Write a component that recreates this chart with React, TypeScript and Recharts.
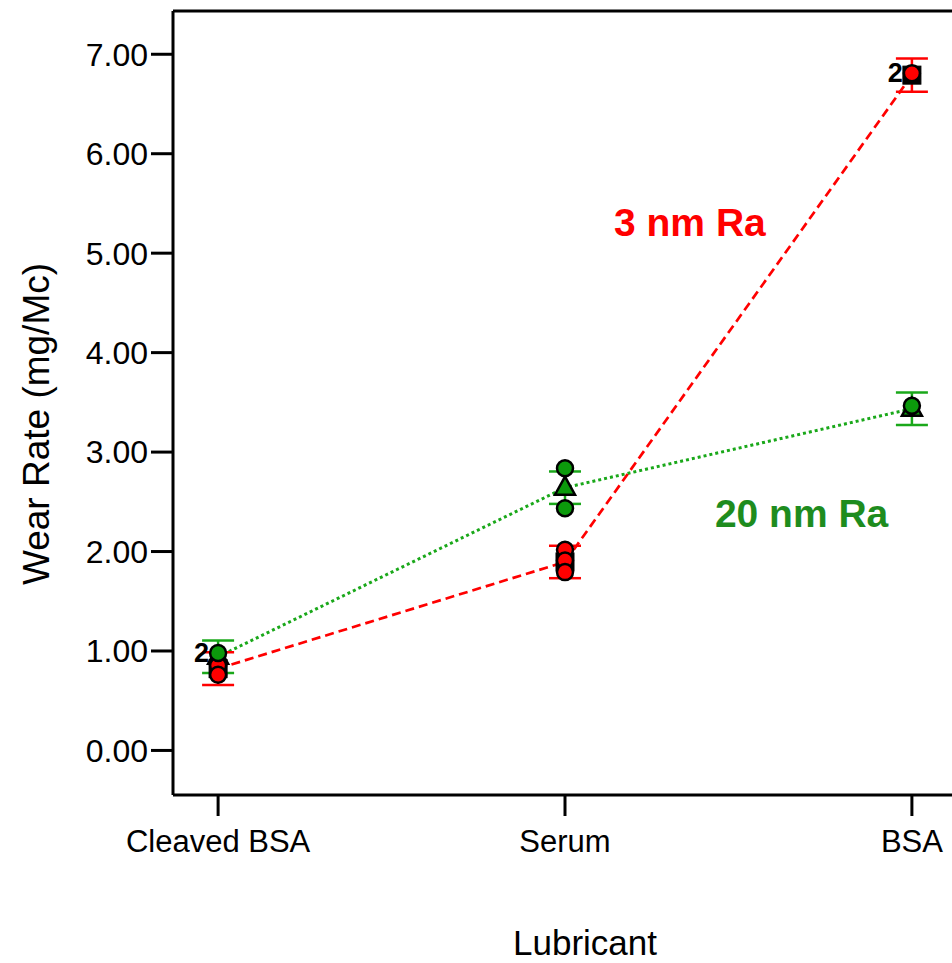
import { ComposedChart, Line, Scatter, XAxis, YAxis, ErrorBar, ReferenceDot, ReferenceLine, Label } from 'recharts'

const lubricants = ['Cleaved BSA', 'Serum', 'BSA']
const yTicks = [0, 1, 2, 3, 4, 5, 6, 7]

// 3 nm Ra (red) and 20 nm Ra (green) means with LSD half-widths
const mean3nm = [0.823, 1.895, 6.79]
const lsd3nm = [0.165, 0.163, 0.168]
const mean20nm = [0.942, 2.642, 3.436]
const lsd20nm = [0.164, 0.163, 0.163]

// individual runs; n = replicates stacked on the same spot
const runs3nm = [
  { lub: 0, wear: 0.855, n: 1 },
  { lub: 0, wear: 0.761, n: 1 },
  { lub: 1, wear: 2.017, n: 1 },
  { lub: 1, wear: 1.91, n: 1 },
  { lub: 1, wear: 1.793, n: 1 },
  { lub: 2, wear: 6.81, n: 2 },
]
const runs20nm = [
  { lub: 0, wear: 0.98, n: 2 },
  { lub: 1, wear: 2.838, n: 1 },
  { lub: 1, wear: 2.436, n: 1 },
  { lub: 2, wear: 3.465, n: 1 },
]

const notes = [
  { text: '3 nm Ra', lub: 1.36, wear: 5.31, series: '3nm' },
  { text: '20 nm Ra', lub: 1.682, wear: 2.39, series: '20nm' },
]

const rows = lubricants.map((_, i) => ({
  lub: i,
  ra3: mean3nm[i],
  e3: lsd3nm[i],
  ra20: mean20nm[i],
  e20: lsd20nm[i],
}))

const RED = '#ff0000'
const GREEN = '#0c9a0c'
const GREEN_LINE = '#1aa81a'
const GREEN_TEXT = '#1e8c1e'
const FONT = '"Liberation Sans", Arial, sans-serif'
const Y_MAX = 7.435

const squareDot = (p: any) => {
  if (p.cx == null || p.cy == null) return <g key={p.key} />
  return (
    <rect key={p.key} x={p.cx - 9} y={p.cy - 9} width={18} height={18} fill="#000" stroke="#000" strokeWidth={1} />
  )
}

const triangleDot = (p: any) => {
  if (p.cx == null || p.cy == null) return <g key={p.key} />
  const { cx, cy } = p
  return (
    <polygon
      key={p.key}
      points={`${cx},${cy - 11} ${cx - 10},${cy + 7} ${cx + 10},${cy + 7}`}
      fill={GREEN}
      stroke="#000"
      strokeWidth={2.5}
    />
  )
}

const runShape = (fill: string) => (p: any) => {
  const { cx, cy, payload } = p
  return (
    <g>
      <circle cx={cx} cy={cy} r={8} fill={fill} stroke="#000" strokeWidth={2.5} />
      {payload.n > 1 && (
        <text x={cx - 9} y={cy + 9} textAnchor="end" fontSize={27} fontWeight="bold" fontFamily={FONT} fill="#000">
          {payload.n}
        </text>
      )}
    </g>
  )
}

const yTitle = (props: any) => {
  const vb = props.viewBox
  const x = vb.x + 49
  const y = vb.y + vb.height / 2 + 21
  return (
    <text x={x} y={y} transform={`rotate(-90 ${x} ${y})`} textAnchor="middle" fontSize={37} fontFamily={FONT} fill="#000">
      Wear Rate (mg/Mc)
    </text>
  )
}

const xTitle = (props: any) => {
  const vb = props.viewBox
  return (
    <text x={vb.x + vb.width / 2 + 20} y={vb.y + 160} textAnchor="middle" fontSize={35} fontFamily={FONT} fill="#000">
      Lubricant
    </text>
  )
}

export default function App() {
  const xDomain = [-0.13, 2.13]
  return (
    <div style={{ position: 'fixed', left: 0, top: 0, width: 952, height: 963, overflow: 'hidden', background: '#fff' }}>
      <ComposedChart width={970} height={963} data={rows} margin={{ top: 11, right: 13, bottom: 0, left: 0 }}>
        <XAxis
          dataKey="lub"
          type="number"
          domain={xDomain}
          ticks={[0, 1, 2]}
          allowDataOverflow
          tickFormatter={(v: number) => lubricants[v]}
          height={168}
          tickSize={21}
          tickMargin={14}
          axisLine={{ stroke: '#000', strokeWidth: 3 }}
          tickLine={{ stroke: '#000', strokeWidth: 3 }}
          tick={{ fill: '#000', fontSize: 31, fontFamily: FONT }}
        >
          <Label content={xTitle} />
        </XAxis>
        <YAxis
          type="number"
          domain={[-0.448, Y_MAX]}
          ticks={yTicks}
          allowDataOverflow
          width={173}
          tickSize={22}
          tickMargin={3}
          tickFormatter={(v: number) => v.toFixed(2)}
          axisLine={{ stroke: '#000', strokeWidth: 3 }}
          tickLine={{ stroke: '#000', strokeWidth: 3 }}
          tick={{ fill: '#000', fontSize: 32, fontFamily: FONT }}
        >
          <Label content={yTitle} />
        </YAxis>
        <ReferenceLine y={Y_MAX} stroke="#000" strokeWidth={3} ifOverflow="visible" />

        <Line
          dataKey="ra20"
          stroke={GREEN_LINE}
          strokeWidth={3}
          strokeDasharray="3 3"
          dot={triangleDot}
          activeDot={false}
          isAnimationActive={false}
        >
          <ErrorBar dataKey="e20" width={16} stroke={GREEN_LINE} strokeWidth={2.5} direction="y" />
        </Line>
        <Line
          dataKey="ra3"
          stroke={RED}
          strokeWidth={2.7}
          strokeDasharray="9 5"
          dot={squareDot}
          activeDot={false}
          isAnimationActive={false}
        >
          <ErrorBar dataKey="e3" width={16} stroke={RED} strokeWidth={2.5} direction="y" />
        </Line>

        <Scatter data={runs3nm} dataKey="wear" shape={runShape(RED)} isAnimationActive={false} />
        <Scatter data={runs20nm} dataKey="wear" shape={runShape(GREEN)} isAnimationActive={false} />

        {notes.map((n) => (
          <ReferenceDot
            key={n.text}
            x={n.lub}
            y={n.wear}
            r={0}
            fill="none"
            stroke="none"
            label={{
              value: n.text,
              position: 'center',
              fill: n.series === '3nm' ? RED : GREEN_TEXT,
              fontSize: 39,
              fontWeight: 'bold',
              fontFamily: FONT,
            }}
          />
        ))}
      </ComposedChart>
    </div>
  )
}
